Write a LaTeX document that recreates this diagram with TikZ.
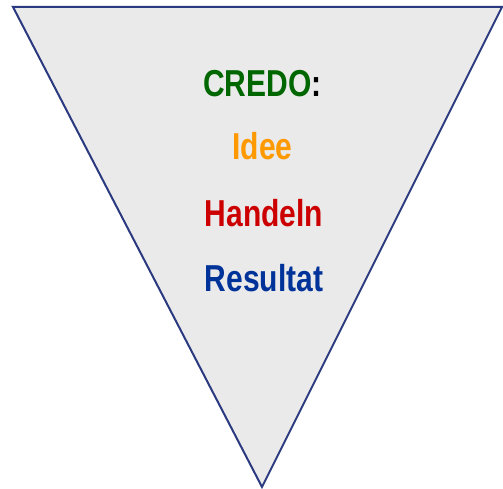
\documentclass[tikz,border=0pt]{standalone}
\usepackage{fontspec}
\setmainfont{Liberation Sans}
\newfontfamily\narrowbf[FakeStretch=0.8]{Liberation Sans Bold}
\definecolor{trifill}{HTML}{EAEAEA}
\definecolor{tristroke}{HTML}{2B3A80}
\definecolor{credogreen}{HTML}{006600}
\definecolor{ideeorange}{HTML}{FF9900}
\definecolor{handelnred}{HTML}{CC0000}
\definecolor{resblue}{HTML}{003399}
\begin{document}
\begin{tikzpicture}[x=1pt,y=1pt,
  word/.style={anchor=base,inner sep=0pt,font=\narrowbf\fontsize{37.5}{40}\selectfont}]
\useasboundingbox (0,0) rectangle (503,489);
\coordinate (tl) at (13,482);
\coordinate (tr) at (502,482);
\coordinate (bt) at (262,2);
\draw[tristroke,line width=2pt,fill=trifill,line join=miter] (tl) -- (tr) -- (bt) -- cycle;
\node[word] (credo) at (262.5,392) {\textcolor{credogreen}{CREDO}\textcolor{black}{:}};
\node[word,text=ideeorange] (idee) at (262.5,329) {Idee};
\node[word,text=handelnred] (handeln) at (264,262) {Handeln};
\node[word,text=resblue] (resultat) at (264,197) {Resultat};
\end{tikzpicture}
\end{document}
